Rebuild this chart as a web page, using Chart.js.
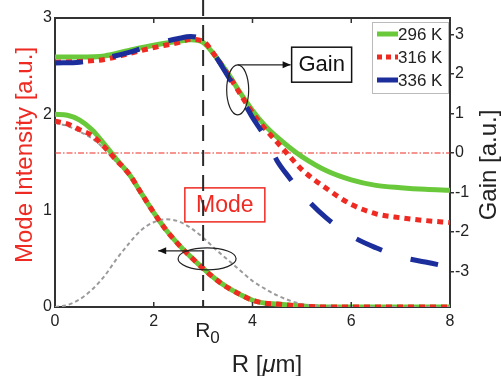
<!DOCTYPE html>
<html>
<head>
<meta charset="utf-8">
<script src="https://cdn.jsdelivr.net/npm/chart.js@4.4.1/dist/chart.umd.min.js"></script>
<style>
  html, body { margin: 0; padding: 0; background: #fff; }
  #wrap { width: 501px; height: 376px; }
</style>
</head>
<body>
<div id="wrap"><canvas id="gainChart"></canvas></div>
<script>
const FONT = "'Liberation Sans', Arial, Helvetica, sans-serif";

// Gain curves (right axis) vs radius R [um]
const rGain = [0, 0.5, 1, 1.5, 2, 2.5, 2.75, 3, 3.25, 3.5, 3.75, 4, 4.25, 4.5, 4.75, 5, 5.5, 6, 6.5, 7, 7.5, 8];
const gain296 = [2.43, 2.43, 2.46, 2.6, 2.73, 2.83, 2.87, 2.8, 2.45, 2.02, 1.53, 1.08, 0.7, 0.4, 0.14, -0.09, -0.45, -0.68, -0.82, -0.88, -0.92, -0.94];
const gain316 = [2.3, 2.32, 2.37, 2.52, 2.67, 2.8, 2.88, 2.83, 2.45, 2.0, 1.5, 1.02, 0.62, 0.27, -0.08, -0.42, -0.9, -1.3, -1.54, -1.64, -1.71, -1.76];
const gain336 = [2.28, 2.3, 2.4, 2.55, 2.75, 2.9, 2.95, 2.85, 2.45, 1.95, 1.45, 0.9, 0.42, -0.2, -0.63, -1.03, -1.65, -2.1, -2.4, -2.63, -2.76, -2.89];

// Mode intensity curves (left axis)
const rMode = [0, 0.25, 0.5, 0.75, 1, 1.25, 1.5, 1.75, 2, 2.25, 2.5, 2.75, 3, 3.25, 3.5, 3.75, 4, 4.25, 4.5, 5, 5.5, 6, 7, 8];
const mode296 = [2.0, 1.99, 1.94, 1.84, 1.69, 1.53, 1.38, 1.18, 0.98, 0.8, 0.65, 0.52, 0.4, 0.29, 0.2, 0.13, 0.07, 0.04, 0.03, 0.01, 0, 0, 0, 0];
const mode316 = [1.93, 1.9, 1.84, 1.78, 1.66, 1.52, 1.38, 1.18, 0.98, 0.8, 0.65, 0.52, 0.4, 0.29, 0.2, 0.13, 0.07, 0.04, 0.03, 0.01, 0, 0, 0, 0];
const modeGray = [1.91, 1.88, 1.82, 1.75, 1.64, 1.5, 1.36, 1.17, 0.97, 0.79, 0.64, 0.51, 0.39, 0.28, 0.19, 0.12, 0.07, 0.04, 0.03, 0.01, 0, 0, 0, 0];
const modeProfile = [0, 0.02, 0.08, 0.18, 0.32, 0.5, 0.66, 0.8, 0.88, 0.91, 0.89, 0.82, 0.72, 0.6, 0.49, 0.38, 0.27, 0.19, 0.12, 0.03, 0.01, 0, 0, 0];

const seriesLabels = ['296 K', '316 K', '336 K'];
const xTicks = [0, 2, 3, 4, 6, 8];
const modeTicks = [0, 1, 2, 3];
const gainTicks = [-3, -2, -1, 0, 1, 2, 3];
const R0 = 3;

const GREEN = '#69c93a';
const RED = '#ee2a22';
const BLUE = '#1b2e9c';
const GRAY = '#9b9b9b';
const AXIS = '#333';

const pts = (xs, ys) => xs.map((v, i) => ({ x: v, y: ys[i] }));

function line(ctx, x1, y1, x2, y2) {
    ctx.beginPath();
    ctx.moveTo(x1, y1);
    ctx.lineTo(x2, y2);
    ctx.stroke();
}

function arrow(ctx, x1, y1, x2, y2) {
    line(ctx, x1, y1, x2, y2);
    const ang = Math.atan2(y2 - y1, x2 - x1);
    ctx.beginPath();
    ctx.moveTo(x2, y2);
    ctx.lineTo(x2 - 8 * Math.cos(ang) + 3.5 * Math.sin(ang), y2 - 8 * Math.sin(ang) - 3.5 * Math.cos(ang));
    ctx.lineTo(x2 - 8 * Math.cos(ang) - 3.5 * Math.sin(ang), y2 - 8 * Math.sin(ang) + 3.5 * Math.cos(ang));
    ctx.closePath();
    ctx.fill();
}

// Frame, R0 marker, annotations, legend and axis titles
const decorations = {
    id: 'decorations',
    afterDatasetsDraw(chart) {
        const { ctx, chartArea: a, scales: { x, y, y2 } } = chart;
        ctx.save();

        // top frame line and inward ticks
        ctx.strokeStyle = AXIS;
        ctx.lineWidth = 2;
        line(ctx, a.left, a.top, a.right, a.top);
        ctx.lineWidth = 1.5;
        [2, 4, 6].forEach(v => {
            const px = x.getPixelForValue(v);
            line(ctx, px, a.bottom, px, a.bottom - 5);
            line(ctx, px, a.top, px, a.top + 5);
        });

        // Mode box
        const mx = x.getPixelForValue(3.44), my = y.getPixelForValue(1.06);
        ctx.strokeStyle = RED;
        ctx.lineWidth = 1.5;
        ctx.fillStyle = '#fff';
        ctx.fillRect(mx - 40, my - 17, 80, 34);
        ctx.strokeRect(mx - 40, my - 17, 80, 34);
        ctx.fillStyle = RED;
        ctx.font = `23px ${FONT}`;
        ctx.textAlign = 'center';
        ctx.textBaseline = 'middle';
        ctx.fillText('Mode', mx, my + 1);

        // Gain box
        const gx = x.getPixelForValue(5.4), gy = y2.getPixelForValue(2.25);
        ctx.strokeStyle = '#111';
        ctx.fillStyle = '#fff';
        ctx.fillRect(gx - 30, gy - 17, 60, 35);
        ctx.strokeRect(gx - 30, gy - 17, 60, 35);
        ctx.fillStyle = '#111';
        ctx.font = `22px ${FONT}`;
        ctx.fillText('Gain', gx, gy + 1);

        // R0 vertical dashed line
        const r0 = x.getPixelForValue(R0);
        ctx.strokeStyle = '#2a2a2a';
        ctx.lineWidth = 2;
        ctx.setLineDash([16, 9]);
        line(ctx, r0, 0, r0, a.bottom);
        ctx.setLineDash([]);

        // ellipses and arrows
        ctx.strokeStyle = '#222';
        ctx.fillStyle = '#111';
        ctx.lineWidth = 1.2;
        const e1x = x.getPixelForValue(3.7), e1y = y2.getPixelForValue(1.6);
        ctx.beginPath();
        ctx.ellipse(e1x, e1y, 11, 25, 0, 0, Math.PI * 2);
        ctx.stroke();
        arrow(ctx, e1x, e1y - 25, gx - 31, e1y - 25);

        const e2x = x.getPixelForValue(3.08), e2y = y.getPixelForValue(0.5);
        ctx.beginPath();
        ctx.ellipse(e2x, e2y, 29, 11, 0, 0, Math.PI * 2);
        ctx.stroke();
        arrow(ctx, r0, e2y - 8, x.getPixelForValue(2.09), e2y - 8);

        // legend
        const lx = 372, ly = 22, lw = 76, lh = 71;
        ctx.fillStyle = '#fff';
        ctx.fillRect(lx, ly, lw, lh);
        ctx.strokeStyle = '#bbb';
        ctx.lineWidth = 1;
        ctx.strokeRect(lx + 0.5, ly + 0.5, lw, lh);
        ctx.font = `17px ${FONT}`;
        ctx.textAlign = 'left';
        ctx.textBaseline = 'middle';
        chart.data.datasets.slice(0, 3).forEach((ds, i) => {
            const rowY = ly + 12 + i * 23;
            ctx.strokeStyle = ds.borderColor;
            ctx.lineWidth = 5;
            ctx.setLineDash(i === 1 ? [5, 4] : []);
            line(ctx, lx + 5, rowY, lx + 26, rowY);
            ctx.setLineDash([]);
            ctx.fillStyle = '#222';
            ctx.fillText(ds.label, lx + 26, rowY + 1);
        });

        // R0 tick label
        ctx.fillStyle = '#222';
        ctx.textBaseline = 'alphabetic';
        ctx.textAlign = 'left';
        ctx.font = `21px ${FONT}`;
        ctx.fillText('R', r0 - 8, 337);
        ctx.font = `17px ${FONT}`;
        ctx.fillText('0', r0 + 7, 343);

        // axis titles
        ctx.font = `24px ${FONT}`;
        ctx.textAlign = 'center';
        ctx.textBaseline = 'middle';
        ctx.save();
        ctx.translate(25, 155);
        ctx.rotate(-Math.PI / 2);
        ctx.fillStyle = RED;
        ctx.fillText('Mode Intensity [a.u.]', 0, 0);
        ctx.restore();
        ctx.save();
        ctx.translate(489, 165);
        ctx.rotate(-Math.PI / 2);
        ctx.fillStyle = '#222';
        ctx.fillText('Gain [a.u.]', 0, 0);
        ctx.restore();

        // x title with italic mu
        ctx.fillStyle = '#222';
        ctx.textAlign = 'left';
        const p1 = 'R [', p2 = '\u03bc', p3 = 'm]';
        ctx.font = `24px ${FONT}`;
        const w1 = ctx.measureText(p1).width, w3 = ctx.measureText(p3).width;
        ctx.font = `italic 24px ${FONT}`;
        const w2 = ctx.measureText(p2).width;
        let tx = 267 - (w1 + w2 + w3) / 2;
        ctx.font = `24px ${FONT}`;
        ctx.fillText(p1, tx, 365);
        tx += w1;
        ctx.font = `italic 24px ${FONT}`;
        ctx.fillText(p2, tx, 365);
        tx += w2;
        ctx.font = `24px ${FONT}`;
        ctx.fillText(p3, tx, 365);

        ctx.restore();
    }
};

const baseLine = { pointRadius: 0, fill: false, cubicInterpolationMode: 'monotone', borderCapStyle: 'butt' };

new Chart(document.getElementById('gainChart'), {
    type: 'line',
    data: {
        datasets: [
            { ...baseLine, label: seriesLabels[0], data: pts(rGain, gain296), yAxisID: 'y2', borderColor: GREEN, borderWidth: 5, order: 6 },
            { ...baseLine, label: seriesLabels[1], data: pts(rGain, gain316), yAxisID: 'y2', borderColor: RED, borderWidth: 5, borderDash: [6, 5], order: 5 },
            { ...baseLine, label: seriesLabels[2], data: pts(rGain, gain336), yAxisID: 'y2', borderColor: BLUE, borderWidth: 5, borderDash: [28, 30], order: 4 },
            { ...baseLine, label: 'mode gray', data: pts(rMode, modeGray), yAxisID: 'y', borderColor: GRAY, borderWidth: 2, borderDash: [4, 3], order: 10 },
            { ...baseLine, label: 'mode 296', data: pts(rMode, mode296), yAxisID: 'y', borderColor: GREEN, borderWidth: 5, order: 9 },
            { ...baseLine, label: 'mode profile', data: pts(rMode, modeProfile), yAxisID: 'y', borderColor: GRAY, borderWidth: 2, borderDash: [4, 3], order: 8 },
            { ...baseLine, label: 'mode 316', data: pts(rMode, mode316), yAxisID: 'y', borderColor: RED, borderWidth: 5, borderDash: [6, 5], order: 7 },
            { ...baseLine, label: 'zero', data: [{ x: 0, y: 0 }, { x: 8, y: 0 }], yAxisID: 'y2', borderColor: RED, borderWidth: 1.2, borderDash: [6, 2, 1.5, 2], order: 11 }
        ]
    },
    options: {
        responsive: true,
        maintainAspectRatio: false,
        animation: false,
        events: [],
        layout: { padding: { top: 18, left: 0, right: 0, bottom: 0 } },
        plugins: { legend: { display: false }, tooltip: { enabled: false } },
        scales: {
            x: {
                type: 'linear', min: 0, max: 8,
                afterBuildTicks: s => { s.ticks = xTicks.map(v => ({ value: v })); },
                afterFit: s => { s.height = 69; },
                ticks: {
                    callback: v => (v === R0 ? '' : String(v)),
                    font: { family: FONT, size: 16 }, color: '#222', padding: 5,
                    maxRotation: 0, autoSkip: false
                },
                grid: { display: false, drawTicks: false },
                border: { color: AXIS, width: 2 }
            },
            y: {
                position: 'left', min: 0, max: 3,
                afterBuildTicks: s => { s.ticks = modeTicks.map(v => ({ value: v })); },
                afterFit: s => { s.width = 55; },
                ticks: { font: { family: FONT, size: 16 }, color: '#222', padding: 3 },
                grid: { display: false, drawTicks: false },
                border: { color: AXIS, width: 2 }
            },
            y2: {
                position: 'right', min: -3.9, max: 3.42,
                afterBuildTicks: s => { s.ticks = gainTicks.map(v => ({ value: v })); },
                afterFit: s => { s.width = 51; },
                ticks: { font: { family: FONT, size: 16 }, color: '#222', padding: 1 },
                grid: { drawOnChartArea: false, drawTicks: true, tickLength: 4, color: AXIS, lineWidth: 1.5 },
                border: { color: AXIS, width: 2 }
            }
        }
    },
    plugins: [decorations]
});
</script>
</body>
</html>
